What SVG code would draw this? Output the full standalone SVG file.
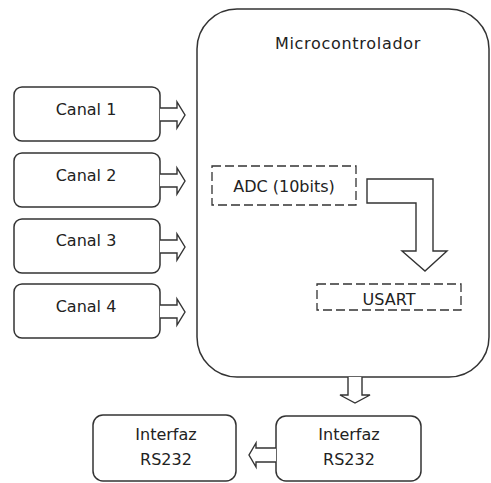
<svg xmlns="http://www.w3.org/2000/svg" width="491" height="483" viewBox="0 0 491 483">
<style>
  .box{fill:#fff;stroke:#333;stroke-width:1.5}
  .dash{fill:none;stroke:#333;stroke-width:1.3;stroke-dasharray:9 4}
  .arrow{fill:#fff;stroke:#333;stroke-width:1.4;stroke-linejoin:miter}
  text{font-family:"DejaVu Sans","Liberation Sans",sans-serif;font-size:16px;fill:#222;text-anchor:middle}
</style>
<rect width="491" height="483" fill="#fff"/>
<g id="micro">
  <rect class="box" x="197" y="9" width="292" height="368" rx="40" ry="40"/>
  <text x="348" y="49" letter-spacing="0.7">Microcontrolador</text>
</g>
<g id="adc">
  <rect class="dash" x="212" y="166" width="144" height="39"/>
  <text x="284" y="192">ADC (10bits)</text>
</g>
<g id="usart">
  <rect class="dash" x="317" y="284" width="144" height="26"/>
  <text x="389" y="305">USART</text>
</g>
<g id="canal1">
  <rect class="box" x="14" y="87" width="146" height="54" rx="8"/>
  <text x="86" y="115">Canal 1</text>
</g>
<g id="canal2">
  <rect class="box" x="14" y="153" width="146" height="54" rx="8"/>
  <text x="86" y="181">Canal 2</text>
</g>
<g id="canal3">
  <rect class="box" x="14" y="219" width="146" height="54" rx="8"/>
  <text x="86" y="246">Canal 3</text>
</g>
<g id="canal4">
  <rect class="box" x="14" y="284" width="146" height="54" rx="8"/>
  <text x="86" y="312">Canal 4</text>
</g>
<g id="interfaz1">
  <rect class="box" x="93" y="415" width="143" height="66" rx="10"/>
  <text x="166" y="440">Interfaz</text>
  <text x="166" y="465">RS232</text>
</g>
<g id="interfaz2">
  <rect class="box" x="276" y="416" width="145" height="65" rx="10"/>
  <text x="349" y="440">Interfaz</text>
  <text x="349" y="465">RS232</text>
</g>
<g id="connectors">
  <path class="arrow" d="M160,108 H177 V102 L185,115 L177,128 V121 H160"/>
  <path class="arrow" d="M160,174 H177 V168 L185,181 L177,194 V187 H160"/>
  <path class="arrow" d="M160,240 H177 V234 L185,247 L177,260 V253 H160"/>
  <path class="arrow" d="M160,305 H177 V299 L185,312 L177,325 V318 H160"/>
  <path class="arrow" d="M367,179 H433 V251 H447 L425,271 L402,251 H416 V203 H367 Z"/>
  <path class="arrow" d="M348,377 V395 H340 L355,403 L370,395 H362 V377"/>
  <path class="arrow" d="M276,448 H256 V443 L249,455 L256,467 V462 H276"/>
</g>
</svg>
